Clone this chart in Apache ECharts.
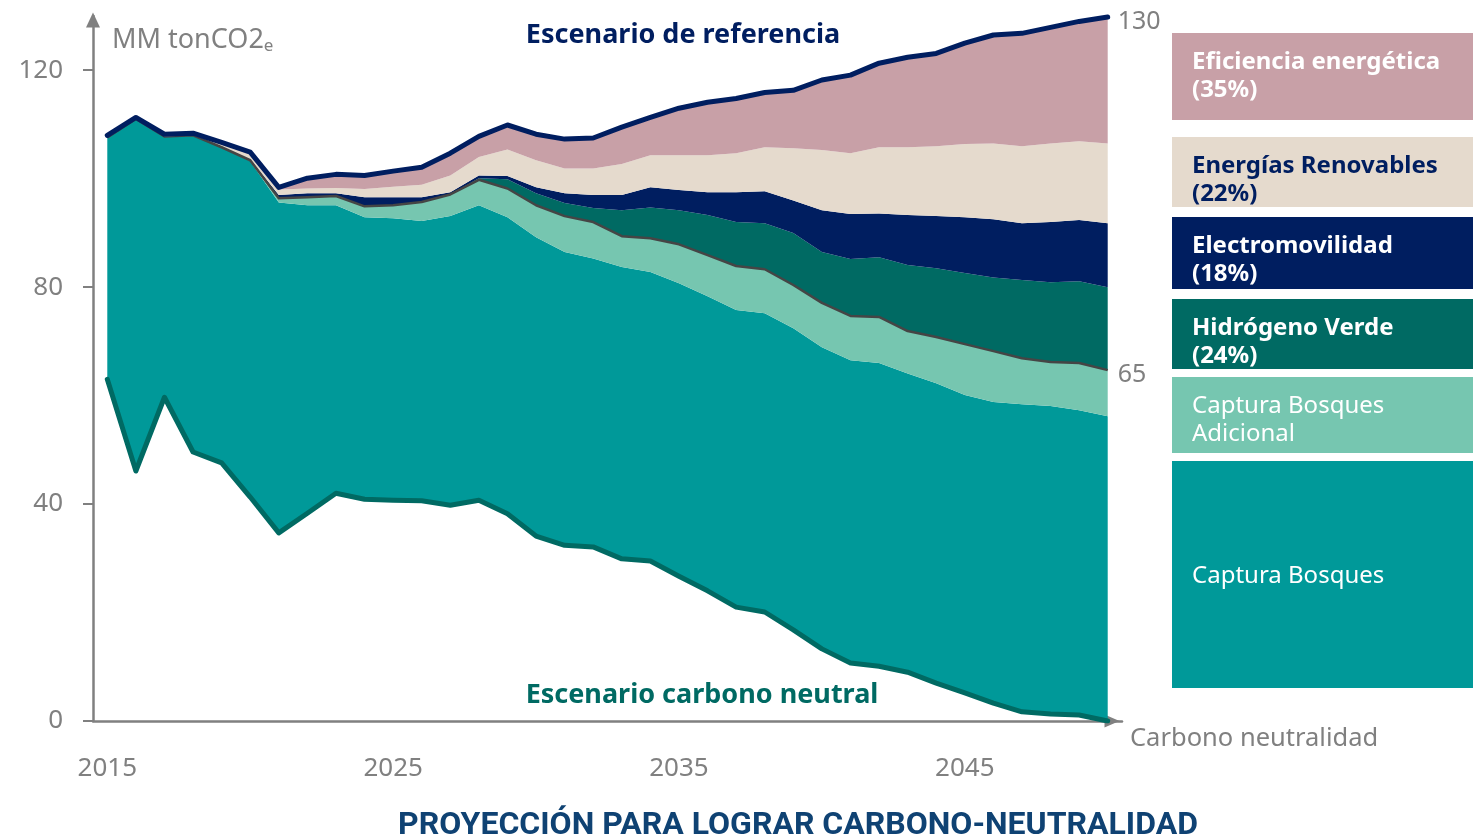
<!DOCTYPE html>
<html>
<head>
<meta charset="utf-8">
<title>Proyección para lograr carbono-neutralidad</title>
<script src="https://cdn.jsdelivr.net/npm/echarts@6/dist/echarts.min.js"></script>
<style>
  html, body { margin: 0; padding: 0; background: #ffffff; }
  #chart { width: 1473px; height: 838px; }
</style>
</head>
<body>
<div id="chart"></div>
<script>
// ======================
// DATA (MM tonCO2e)
// ======================

const years = [
    '2015', '2016', '2017', '2018', '2019', '2020', '2021', '2022', '2023',
    '2024', '2025', '2026', '2027', '2028', '2029', '2030', '2031', '2032',
    '2033', '2034', '2035', '2036', '2037', '2038', '2039', '2040', '2041',
    '2042', '2043', '2044', '2045', '2046', '2047', '2048', '2049', '2050'
];

// escenario carbono neutral (base del apilado)
const neutralBase = [
    63.0, 46.1, 59.7, 49.6, 47.6, 41.3, 34.7, 38.3, 42.0, 40.9, 40.7, 40.6,
    39.8, 40.7, 38.2, 34.1, 32.4, 32.1, 29.9, 29.5, 26.7, 24.0, 21.0, 20.1,
    16.8, 13.3, 10.7, 10.1, 9.0, 7.0, 5.2, 3.3, 1.7, 1.3, 1.1, 0.0
];

const capturaBosques = [
    44.6, 64.9, 48.1, 58.4, 58.2, 61.9, 60.9, 56.8, 53.1, 52.0, 52.0, 51.6,
    53.3, 54.4, 54.7, 55.1, 54.1, 53.2, 53.8, 53.3, 54.0, 54.3, 54.8, 55.1,
    55.6, 55.6, 55.8, 55.9, 55.1, 55.3, 54.9, 55.5, 56.7, 56.8, 56.2, 56.2
];

const capturaAdicional = [
    0, 0, 0, 0, 0, 0.2, 0.8, 1.5, 1.7, 2.0, 2.4, 3.5,
    4.0, 4.7, 5.3, 5.9, 6.6, 6.7, 5.7, 6.2, 7.2, 7.6, 8.1, 8.1,
    8.0, 8.2, 8.2, 8.5, 7.8, 8.5, 9.4, 9.4, 8.5, 8.1, 8.7, 8.5
];

const hidrogenoVerde = [
    0, 0, 0, 0, 0, 0, 0, 0, 0, 0, 0, 0,
    0, 0.3, 1.7, 2.2, 2.4, 2.6, 4.8, 5.7, 6.3, 7.4, 8.1, 8.5,
    9.6, 9.4, 10.5, 11.0, 12.2, 12.7, 13.1, 13.6, 14.4, 14.7, 15.1, 15.3
];

const electromovilidad = [
    0, 0, 0, 0, 0.1, 0.2, 0.6, 0.7, 0.5, 1.7, 1.5, 0.9,
    0.4, 0.5, 0.6, 1.1, 1.8, 2.4, 2.8, 3.7, 3.7, 4.2, 5.5, 5.9,
    6.0, 7.7, 8.3, 8.1, 9.2, 9.6, 10.3, 10.7, 10.5, 11.1, 11.3, 11.8
];

const energiasRenovables = [
    0, 0, 0, 0, 0.5, 0.9, 1.0, 0.9, 1.0, 1.5, 1.9, 2.3,
    3.1, 3.4, 4.9, 5.0, 4.6, 4.9, 5.7, 5.9, 6.4, 6.8, 7.2, 8.1,
    9.6, 11.1, 11.2, 12.2, 12.5, 12.9, 13.5, 14.0, 14.2, 14.5, 14.5, 14.7
];

const eficienciaEnergetica = [
    0.4, 0.3, 0.4, 0.4, 0.3, 0.4, 0.4, 1.9, 2.5, 2.5, 2.9, 3.2,
    4.1, 3.8, 4.5, 4.8, 5.4, 5.6, 6.8, 7.0, 8.7, 9.8, 10.1, 10.1,
    10.7, 12.9, 14.4, 15.5, 16.6, 17.1, 18.6, 20.0, 20.8, 21.4, 22.1, 23.3
];

const yTicks = [0, 40, 80, 120];

const legendLabels = [
    'Eficiencia energética\n(35%)',
    'Energías Renovables\n(22%)',
    'Electromovilidad\n(18%)',
    'Hidrógeno Verde\n(24%)',
    'Captura Bosques\nAdicional',
    'Captura Bosques'
];

// ======================
// STYLE
// ======================

const FONT = "'Noto Sans', 'Open Sans', sans-serif";
const GREY = '#808080';

const colors = {
    bosques: '#009999',
    adicional: '#76c6b0',
    hidrogeno: '#006a63',
    electro: '#001e60',
    renov: '#e5dacd',
    efic: '#c8a0a7',
    neutralLine: '#006a63',
    refLine: '#001e60',
    greyLine: '#454545'
};

// legend boxes: [top, height, fill, text color, bold]
const legendLayout = [
    [33, 87, colors.efic, '#ffffff', true],
    [137, 70, colors.renov, colors.electro, true],
    [217, 72, colors.electro, '#ffffff', true],
    [299, 70, colors.hidrogeno, '#ffffff', true],
    [377, 76, colors.adicional, '#ffffff', false],
    [461, 227, colors.bosques, '#ffffff', false]
];

// ======================
// HELPERS
// ======================

const lastIdx = years.length - 1;
const sumAt = (arrays, i) => arrays.reduce((acc, a) => acc + a[i], 0);

function areaSeries(name, data, color, extra) {
    return Object.assign({
        name: name,
        type: 'line',
        stack: 'total',
        data: data,
        symbol: 'none',
        lineStyle: { width: 0 },
        areaStyle: { color: color, opacity: 1 },
        emphasis: { disabled: true },
        z: 2
    }, extra || {});
}

const endLabelStyle = {
    show: true,
    color: GREY,
    fontFamily: FONT,
    fontSize: 25,
    distance: 10,
    offset: [0, 5]
};

// ======================
// LEGEND GRAPHIC
// ======================

const legendGraphic = legendLabels.map((label, i) => {
    const [top, height, fill, textColor, bold] = legendLayout[i];
    const single = label.indexOf('\n') < 0;
    return {
        type: 'group',
        children: [
            {
                type: 'rect',
                shape: { x: 1172, y: top, width: 301, height: height },
                style: { fill: fill }
            },
            {
                type: 'text',
                x: 1192,
                y: single ? top + height / 2 + 2 : top + 15,
                style: {
                    text: label,
                    fill: textColor,
                    font: (bold ? 'bold ' : '') + '24px ' + FONT,
                    lineHeight: 28,
                    verticalAlign: single ? 'middle' : 'top'
                }
            }
        ]
    };
});

// ======================
// OPTION
// ======================

const option = {
    animation: false,
    backgroundColor: '#ffffff',
    title: {
        text: 'PROYECCIÓN PARA LOGRAR CARBONO-NEUTRALIDAD',
        left: 793,
        top: 805,
        textAlign: 'center',
        textStyle: {
            fontFamily: "'Liberation Sans Narrow', Roboto, sans-serif",
            fontWeight: 'bold',
            fontSize: 32,
            color: '#0f4273'
        }
    },
    grid: {
        left: 93,
        right: 351,
        top: 16,
        bottom: 117
    },
    xAxis: {
        type: 'category',
        data: years,
        boundaryGap: true,
        axisLine: {
            lineStyle: { color: GREY, width: 2.5 },
            symbol: ['none', 'triangle'],
            symbolSize: [13, 15],
            symbolOffset: [0, -10]
        },
        axisTick: {
            interval: 9,
            length: 10,
            lineStyle: { color: GREY, width: 2 }
        },
        axisLabel: {
            interval: 9,
            margin: 35,
            color: GREY,
            fontFamily: FONT,
            fontSize: 26
        },
        splitLine: { show: false }
    },
    yAxis: {
        type: 'value',
        min: 0,
        max: 130,
        axisLine: {
            show: true,
            lineStyle: { color: GREY, width: 2.5 },
            symbol: ['none', 'triangle'],
            symbolSize: [14, 15],
            symbolOffset: [0, -4]
        },
        axisTick: {
            show: true,
            customValues: yTicks,
            length: 10,
            lineStyle: { color: GREY, width: 2 }
        },
        axisLabel: {
            customValues: yTicks,
            margin: 30,
            color: GREY,
            fontFamily: FONT,
            fontSize: 26
        },
        splitLine: { show: false }
    },
    graphic: [
        {
            type: 'text',
            x: 112,
            y: 40,
            style: {
                text: '{a|MM tonCO2}{b|e}',
                verticalAlign: 'middle',
                rich: {
                    a: { fontFamily: FONT, fontSize: 27, fill: GREY, color: GREY },
                    b: { fontFamily: FONT, fontSize: 17, fill: GREY, color: GREY, padding: [13, 0, 0, 0] }
                }
            }
        },
        {
            type: 'text',
            x: 683,
            y: 35,
            style: {
                text: 'Escenario de referencia',
                fill: colors.refLine,
                font: 'bold 27px ' + FONT,
                align: 'center',
                verticalAlign: 'middle'
            }
        },
        {
            type: 'text',
            x: 702,
            y: 695,
            style: {
                text: 'Escenario carbono neutral',
                fill: colors.neutralLine,
                font: 'bold 27px ' + FONT,
                align: 'center',
                verticalAlign: 'middle'
            }
        },
        {
            type: 'text',
            x: 1130,
            y: 739,
            style: {
                text: 'Carbono neutralidad',
                fill: GREY,
                font: '25.5px ' + FONT,
                verticalAlign: 'middle'
            }
        }
    ].concat(legendGraphic),
    series: [
        {
            name: 'Escenario carbono neutral',
            type: 'line',
            stack: 'total',
            data: neutralBase,
            symbol: 'none',
            lineStyle: { color: colors.neutralLine, width: 5, join: 'round', cap: 'round' },
            emphasis: { disabled: true },
            z: 6
        },
        areaSeries('Captura Bosques', capturaBosques, colors.bosques),
        areaSeries('Captura Bosques Adicional', capturaAdicional, colors.adicional, {
            lineStyle: { color: colors.greyLine, width: 2.5, join: 'round' },
            z: 4,
            endLabel: Object.assign({}, endLabelStyle, {
                formatter: () => String(Math.round(sumAt([neutralBase, capturaBosques, capturaAdicional], lastIdx)))
            })
        }),
        areaSeries('Hidrógeno Verde', hidrogenoVerde, colors.hidrogeno),
        areaSeries('Electromovilidad', electromovilidad, colors.electro),
        areaSeries('Energías Renovables', energiasRenovables, colors.renov),
        areaSeries('Eficiencia energética', eficienciaEnergetica, colors.efic, {
            lineStyle: { color: colors.refLine, width: 5, join: 'round', cap: 'round' },
            z: 5,
            endLabel: Object.assign({}, endLabelStyle, {
                formatter: () => String(Math.round(sumAt([
                    neutralBase, capturaBosques, capturaAdicional, hidrogenoVerde,
                    electromovilidad, energiasRenovables, eficienciaEnergetica
                ], lastIdx)))
            })
        })
    ]
};

const chart = echarts.init(document.getElementById('chart'));
chart.setOption(option);
</script>
</body>
</html>
